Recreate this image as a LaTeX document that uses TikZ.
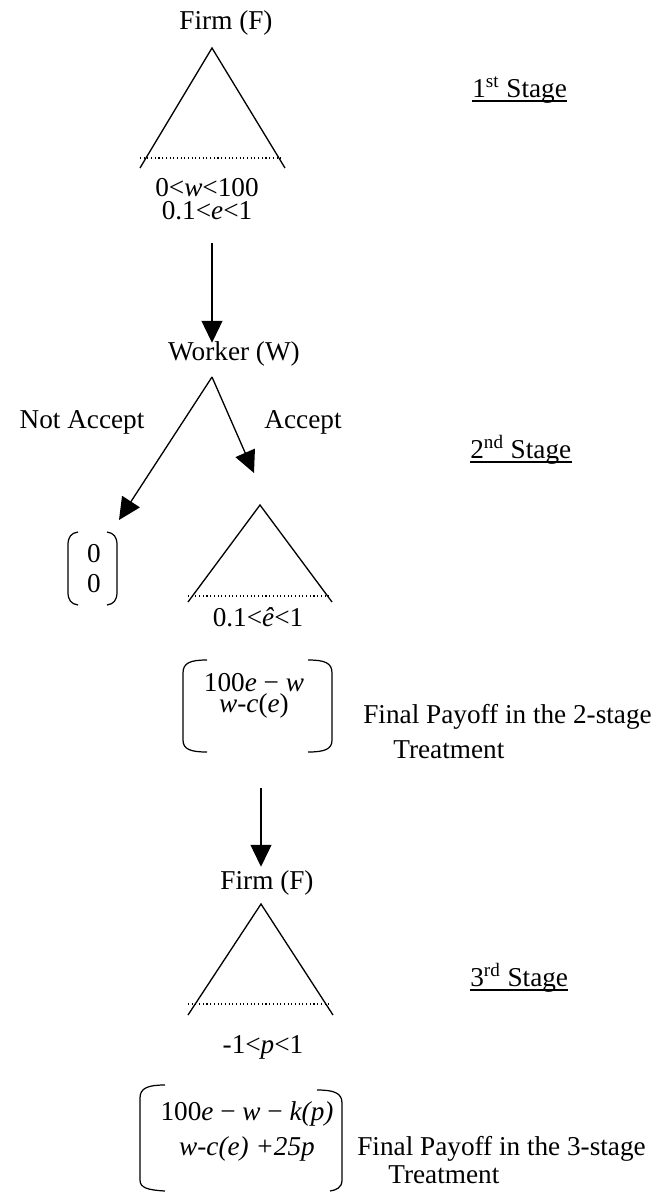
\documentclass[tikz,border=0pt]{standalone}
\usepackage{fontspec}
\setmainfont{Liberation Serif}
\usetikzlibrary{arrows.meta}
\tikzset{
  txt/.style={font=\fontsize{15.5}{18}\selectfont, inner sep=0pt, anchor=base},
  twoline/.style={inner sep=0pt, align=center, anchor=center},
  branch/.style={line width=0.75pt},
  infoset/.style={line width=0.6pt, dash pattern=on 0.6pt off 1.5pt},
  bigarrow/.style={line width=0.75pt, -{Triangle[width=0.42cm, length=0.44cm]}},
  brk/.style={line width=0.7pt},
  ruleline/.style={line width=1.1pt},
}
\begin{document}
\begin{tikzpicture}[x=0.02cm, y=-0.02cm]
  \useasboundingbox (0,0) rectangle (666,1193);
  % 1st stage: firm offers wage and effort
  \node[txt] (firmA) at (226,30) {Firm (F)};
  \draw[branch] (140,168) -- (212,48) -- (285,168);
  \draw[infoset] (140,158) -- (282,158);
  \node[twoline, font=\fontsize{15.5}{13.1}\selectfont] (offer) at (207,199.3)
    {0<\textit{w}<100\\0.1<\textit{e}<1};
  \node[txt, anchor=base west] (stageA) at (472,97) {1\textsuperscript{st} Stage};
  \draw[ruleline] ([yshift=-0.08cm]stageA.base west) -- ([yshift=-0.08cm]stageA.base east);
  % 2nd stage: worker
  \node[txt] (worker) at (234,360) {Worker (W)};
  \coordinate (arrA) at (212,243);
  \draw[bigarrow] (arrA) -- ([yshift=-0.04cm]arrA |- worker.north);
  \coordinate (wroot) at (212,377);
  \coordinate (rejtip) at (119,520);
  \coordinate (acctip) at (254,473);
  \draw[bigarrow] (wroot) -- (rejtip);
  \draw[bigarrow] (wroot) -- (acctip);
  \node[txt] (notacc) at (82,428) {Not Accept};
  \node[txt] (acc) at (303,428) {Accept};
  \node[txt, anchor=base west] (stageB) at (470,458) {2\textsuperscript{nd} Stage};
  \draw[ruleline] ([yshift=-0.08cm]stageB.base west) -- ([yshift=-0.08cm]stageB.base east);
  % reject payoff
  \draw[brk] (78,532) .. controls (71,533) and (68,537) .. (68,545) -- (68,592) .. controls (68,600) and (71,604) .. (78,605);
  \draw[brk] (107,532) .. controls (114,533) and (117,537) .. (117,545) -- (117,592) .. controls (117,600) and (114,604) .. (107,605);
  \node[txt] (zeroF) at (94,562) {0};
  \node[txt] (zeroW) at (94,592) {0};
  % effort choice
  \draw[branch] (188,602) -- (260,505) -- (332,602);
  \draw[infoset] (188,596) -- (330,596);
  \node[txt] (ehat) at (258,626) {0.1<\textit{ê}<1};
  % payoff, 2-stage
  \draw[brk] (207,660) .. controls (190,660) and (183,663) .. (183,673) -- (183,740) .. controls (183,749) and (190,752) .. (207,752);
  \draw[brk] (308,660) .. controls (325,660) and (332,663) .. (332,673) -- (332,740) .. controls (332,749) and (325,752) .. (308,752);
  \node[twoline, font=\fontsize{15.5}{11.95}\selectfont] (payB) at (254,696.2)
    {100\textit{e} − \textit{w}\\\textit{w}-\textit{c}(\textit{e})};
  \node[txt, anchor=base west] (finB) at (363,723) {Final Payoff in the 2-stage};
  \node[txt, anchor=base west] (treatB) at (393,758) {Treatment};
  % 3rd stage: firm punishes or rewards
  \node[txt] (firmC) at (267,889) {Firm (F)};
  \coordinate (arrB) at (261,788);
  \draw[bigarrow] (arrB) -- ([yshift=0.06cm]arrB |- firmC.north);
  \draw[branch] (188,1015) -- (261,904) -- (333,1015);
  \draw[infoset] (188,1004) -- (331,1004);
  \node[txt] (punish) at (263,1053) {-1<\textit{p}<1};
  \node[txt, anchor=base west] (stageC) at (470,986) {3\textsuperscript{rd} Stage};
  \draw[ruleline] ([yshift=-0.08cm]stageC.base west) -- ([yshift=-0.08cm]stageC.base east);
  % payoff, 3-stage
  \draw[brk] (165,1085) .. controls (148,1085) and (140,1088) .. (140,1098) -- (140,1180) .. controls (140,1188) and (148,1190) .. (165,1191);
  \draw[brk] (317,1090) .. controls (334,1090) and (342,1093) .. (342,1103) -- (342,1180) .. controls (342,1188) and (336,1190) .. (330,1191);
  \node[txt] (payFC) at (247,1120) {100\textit{e} − \textit{w} − \textit{k(p)}};
  \node[txt] (payWC) at (247,1155) {\textit{w-c(e) +25p}};
  \node[txt, anchor=base west] (finC) at (357,1155) {Final Payoff in the 3-stage};
  \node[txt, anchor=base west] (treatC) at (388,1183) {Treatment};
\end{tikzpicture}
\end{document}
